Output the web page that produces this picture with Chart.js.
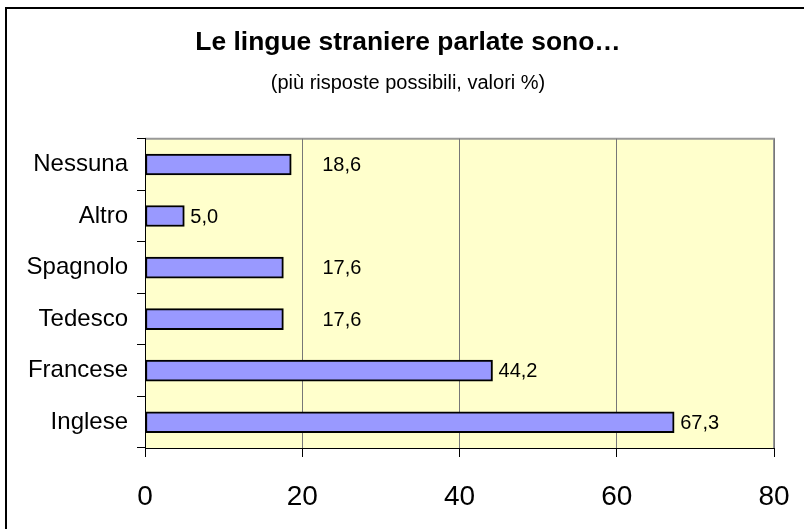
<!DOCTYPE html>
<html>
<head>
<meta charset="utf-8">
<script src="https://cdn.jsdelivr.net/npm/chart.js@4"></script>
<style>
  body { margin: 0; background: #fff; }
</style>
</head>
<body>
<canvas id="lingue_chart" width="804" height="529"></canvas>
<script>
const categories = ['Nessuna', 'Altro', 'Spagnolo', 'Tedesco', 'Francese', 'Inglese'];
const percentuali = [18.6, 5.0, 17.6, 17.6, 44.2, 67.3];
const xTicks = [0, 20, 40, 60, 80];

const FONT = '"Liberation Sans", Arial, sans-serif';

// some labels were dragged to the right in the original
const labelNudge = { Nessuna: 25, Spagnolo: 33, Tedesco: 33 };

const plotBackground = {
  id: 'plotBackground',
  beforeDraw(chart) {
    const { ctx, chartArea } = chart;
    ctx.save();
    ctx.fillStyle = '#FFFFCC';
    ctx.fillRect(chartArea.left, chartArea.top, chartArea.right - chartArea.left, chartArea.bottom - chartArea.top);
    ctx.strokeStyle = '#999999';
    ctx.lineWidth = 2;
    ctx.beginPath();
    ctx.moveTo(chartArea.left, chartArea.top);
    ctx.lineTo(chartArea.right, chartArea.top);
    ctx.lineTo(chartArea.right, chartArea.bottom);
    ctx.stroke();

    // outer frame
    ctx.strokeStyle = '#000';
    ctx.lineWidth = 2;
    ctx.beginPath();
    ctx.moveTo(6, 529);
    ctx.lineTo(6, 8);
    ctx.lineTo(804, 8);
    ctx.stroke();
    ctx.restore();
  }
};

const valueLabels = {
  id: 'valueLabels',
  afterDatasetsDraw(chart) {
    const { ctx } = chart;
    const meta = chart.getDatasetMeta(0);
    ctx.save();
    ctx.font = '20px ' + FONT;
    ctx.fillStyle = '#000';
    ctx.textAlign = 'left';
    ctx.textBaseline = 'middle';
    meta.data.forEach((bar, i) => {
      const txt = percentuali[i].toFixed(1).replace('.', ',');
      const nudge = labelNudge[categories[i]] || 0;
      ctx.fillText(txt, bar.x + 6 + nudge, bar.y + 1);
    });
    ctx.restore();
  }
};

const lingue_chart = new Chart(document.getElementById('lingue_chart'), {
  type: 'bar',
  data: {
    labels: categories,
    datasets: [{
      data: percentuali,
      backgroundColor: '#9999FF',
      borderColor: '#000',
      borderWidth: 2,
      borderSkipped: false,
      barThickness: 21
    }]
  },
  options: {
    indexAxis: 'y',
    responsive: false,
    animation: false,
    layout: {
      padding: { left: 12, right: 0, top: 0, bottom: 0 }
    },
    plugins: {
      legend: { display: false },
      tooltip: { enabled: false },
      title: {
        display: true,
        text: 'Le lingue straniere parlate sono…',
        color: '#000',
        font: { family: FONT, size: 26.4, weight: 'bold' },
        padding: { top: 27, bottom: 10 }
      },
      subtitle: {
        display: true,
        text: '(più risposte possibili, valori %)',
        color: '#000',
        font: { family: FONT, size: 20 },
        padding: { top: 3, bottom: 43 }
      }
    },
    scales: {
      x: {
        min: 0,
        max: 80,
        afterBuildTicks(scale) {
          scale.ticks = xTicks.map(v => ({ value: v }));
        },
        afterFit(scale) {
          scale.height = 81;
          scale.paddingRight = 30;
        },
        grid: {
          color: '#777',
          lineWidth: 1,
          tickColor: '#000',
          tickLength: 9
        },
        border: { display: true, color: '#000', width: 1 },
        ticks: {
          color: '#000',
          padding: 23,
          maxRotation: 0,
          font: { family: FONT, size: 28 }
        }
      },
      y: {
        afterFit(scale) { scale.width = 133; },
        grid: {
          drawOnChartArea: false,
          tickColor: '#000',
          tickLength: 8,
          offset: true
        },
        border: { display: true, color: '#000', width: 1 },
        ticks: {
          color: '#000',
          padding: 9,
          font: { family: FONT, size: 24 }
        }
      }
    }
  },
  plugins: [plotBackground, valueLabels]
});
</script>
</body>
</html>
